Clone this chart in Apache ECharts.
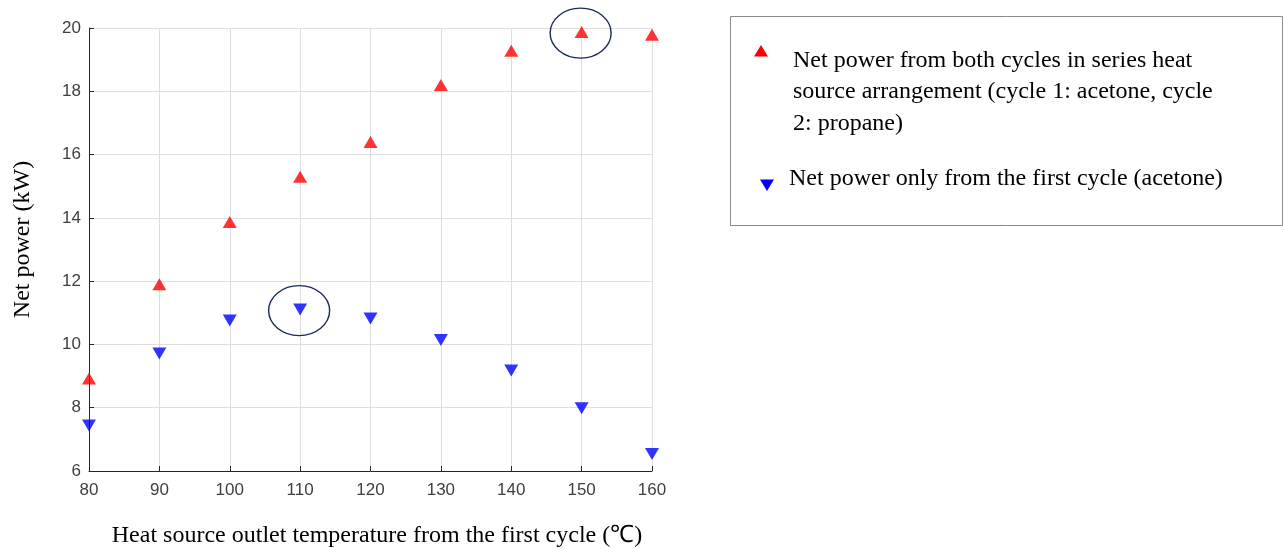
<!DOCTYPE html>
<html>
<head>
<meta charset="utf-8">
<script src="https://cdn.jsdelivr.net/npm/echarts@6/dist/echarts.min.js"></script>
<style>
  html, body { margin: 0; padding: 0; background: #fff; }
  #chart { width: 1284px; height: 549px; }
</style>
</head>
<body>
<div id="chart"></div>
<script>
// Heat source outlet temperature of the first cycle (°C)
const temperatures = [80, 90, 100, 110, 120, 130, 140, 150, 160];
// Net power from both cycles, series heat source arrangement (kW)
const bothCycles = [8.92, 11.9, 13.87, 15.3, 16.4, 18.2, 19.28, 19.87, 19.79];
// Net power from the first cycle alone (kW)
const firstCycle = [7.44, 9.71, 10.76, 11.1, 10.82, 10.14, 9.18, 7.98, 6.54];

const bothLabel = 'Net power from both cycles in series heat source arrangement (cycle 1: acetone, cycle 2: propane)';
const firstLabel = 'Net power only from the first cycle (acetone)';
const bothLines = ['Net power from both cycles in series heat', 'source arrangement (cycle 1: acetone, cycle', '2: propane)'];

// Points circled as maxima: [series index, point index]
const circled = [[0, 7], [1, 3]];

const RED = '#ff0000';
const BLUE = '#0000ff';
const SERIF = '"Liberation Serif", "Times New Roman", serif';
const SANS = '"Liberation Sans", Arial, sans-serif';

const chart = echarts.init(document.getElementById('chart'), null, { renderer: 'canvas' });

const option = {
  animation: false,
  backgroundColor: '#ffffff',
  grid: { left: 89, right: 632, top: 28, bottom: 78, containLabel: false, outerBoundsMode: 'none' },
  xAxis: {
    type: 'value', min: 80, max: 160, interval: 10,
    name: 'Heat source outlet temperature from the first cycle (\u2103)',
    nameLocation: 'middle', nameGap: 53,
    nameTextStyle: { fontFamily: SERIF, fontSize: 24, color: '#000', padding: [0, 0, 0, 13] },
    axisLine: { show: true, lineStyle: { color: '#262626', width: 1 } },
    axisTick: { show: true, inside: true, length: 5, lineStyle: { color: '#262626' } },
    axisLabel: { fontFamily: SANS, fontSize: 17, color: '#404040', margin: 11 },
    splitLine: { show: true, lineStyle: { color: '#dedede', width: 1 } }
  },
  yAxis: {
    type: 'value', min: 6, max: 20, interval: 2,
    name: 'Net power (kW)',
    nameLocation: 'middle', nameGap: 54,
    nameTextStyle: { fontFamily: SERIF, fontSize: 24, color: '#000', padding: [0, 0, 0, 20] },
    axisLine: { show: true, lineStyle: { color: '#262626', width: 1 } },
    axisTick: { show: true, inside: true, length: 5, lineStyle: { color: '#262626' } },
    axisLabel: { fontFamily: SANS, fontSize: 17, color: '#404040', margin: 8 },
    splitLine: { show: true, lineStyle: { color: '#dedede', width: 1 } }
  },
  series: [
    {
      name: bothLabel, type: 'scatter', symbol: 'triangle', symbolSize: [14, 12],
      itemStyle: { color: RED },
      data: temperatures.map((t, i) => [t, bothCycles[i]])
    },
    {
      name: firstLabel, type: 'scatter', symbol: 'triangle', symbolRotate: 180, symbolSize: [14, 12],
      itemStyle: { color: BLUE },
      data: temperatures.map((t, i) => [t, firstCycle[i]])
    }
  ]
};
chart.setOption(option);

// Ellipses around the circled points, placed through the axis scales
const seriesValues = [bothCycles, firstCycle];
const ellipses = circled.map(([s, i]) => {
  const [cx, cy] = chart.convertToPixel({ gridIndex: 0 }, [temperatures[i], seriesValues[s][i]]);
  return {
    type: 'ellipse', silent: true, z: 10,
    shape: { cx: cx - 1, cy: cy + 1, rx: 30.5, ry: 25 },
    style: { fill: 'none', stroke: '#1b2a5a', lineWidth: 1.4 }
  };
});

// Legend box with wrapped entry text
const legendGraphics = [
  { type: 'rect', shape: { x: 730.5, y: 16.5, width: 552, height: 209 },
    style: { fill: '#fff', stroke: '#8a8a8a', lineWidth: 1 }, z: 5 },
  { type: 'polygon', shape: { points: [[761, 45], [768, 56.5], [754, 56.5]] }, style: { fill: RED }, z: 6 },
  { type: 'text', x: 793, y: 44.5, z: 6,
    style: { text: bothLines.join('\n'), font: '24px ' + SERIF, fill: '#000', lineHeight: 31.5 } },
  { type: 'polygon', shape: { points: [[760, 179.5], [774, 179.5], [767, 191]] }, style: { fill: BLUE }, z: 6 },
  { type: 'text', x: 789, y: 163, z: 6,
    style: { text: firstLabel, font: '24px ' + SERIF, fill: '#000', lineHeight: 31.5 } }
];

chart.setOption({ graphic: { elements: ellipses.concat(legendGraphics) } });
</script>
</body>
</html>
